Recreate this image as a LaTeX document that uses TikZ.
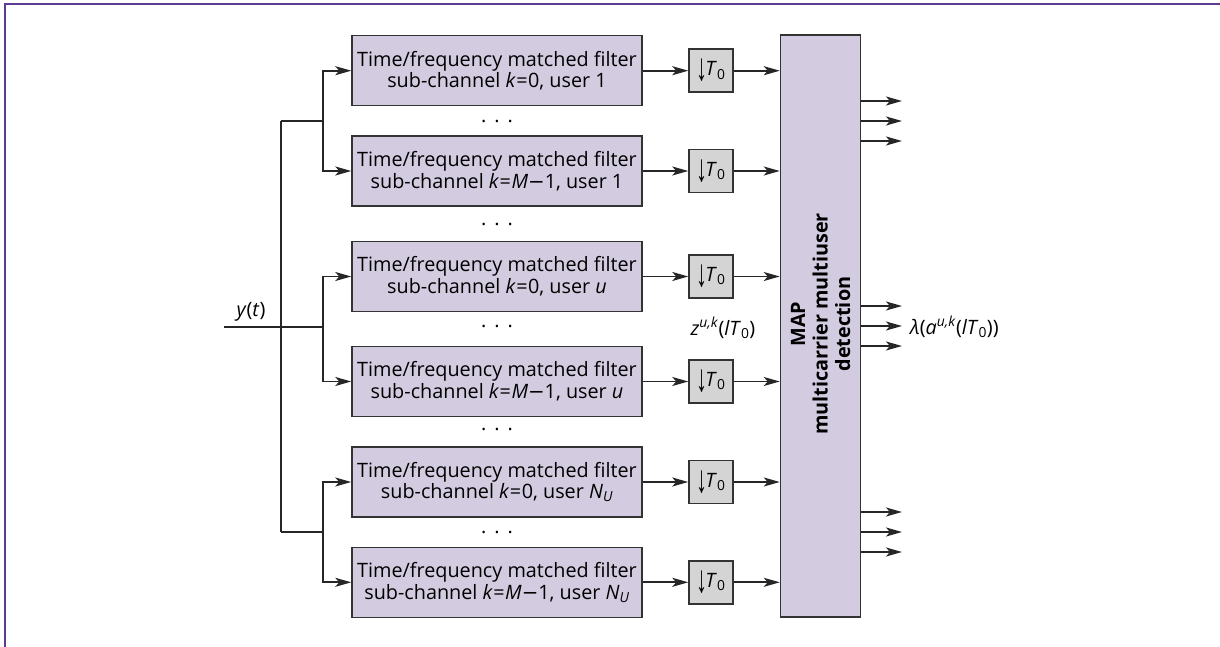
\documentclass[tikz,border=0pt]{standalone}
\usepackage{fontspec}
\setmainfont{Open Sans}
\newfontfamily\symfont{Liberation Sans}
\newfontfamily\minusfont{DejaVu Sans}
\usetikzlibrary{arrows.meta}
\definecolor{boxfill}{HTML}{D3CBE0}
\definecolor{grayfill}{HTML}{D4D4D4}
\definecolor{edgecol}{HTML}{333333}
\definecolor{framecol}{HTML}{5E3C92}
\newcommand{\Tnull}{\textit{T}\textsubscript{0}}
\newcommand{\mminus}{{\minusfont −}}
\newcommand{\eqs}{\kern0.5pt=\kern0.5pt}
\newcommand{\dnarrow}{\raisebox{-5pt}{\scalebox{1}[1.75]{\symfont\fontsize{22}{22}\selectfont ↓}}}
\tikzset{
  txt/.style={font=\fontsize{19.8}{21.7}\selectfont},
  filt/.style={txt, draw=edgecol, line width=1.5pt, fill=boxfill, minimum width=290pt, minimum height=70pt, inner sep=0pt, align=center},
  dsamp/.style={txt, draw=edgecol, line width=1.5pt, fill=grayfill, minimum width=44pt, minimum height=43pt, inner sep=0pt},
  mapbox/.style={draw=edgecol, line width=1.5pt, fill=boxfill, minimum width=80pt, minimum height=582pt, inner sep=0pt},
  conn/.style={line width=1.8pt, draw=black!85},
  arr/.style={conn, -{Stealth[length=16pt,width=9pt,inset=4pt]}},
  lbl/.style={txt, inner sep=0pt},
  dots/.style={txt, inner sep=0pt, anchor=base},
}
\begin{document}
\begin{tikzpicture}[x=1pt,y=-1pt]
\useasboundingbox (0,0) rectangle (1220,647);
\draw[framecol, line width=2.5pt] (5,647) -- (5,4) -- (1220,4);

% filters
\node[filt] (f1) at (497,70.7)  {Time/frequency matched filter\\sub-channel \textit{k}\eqs0, user 1};
\node[filt] (f2) at (497,171)   {Time/frequency matched filter\\sub-channel \textit{k}\eqs\textit{M}\mminus1, user 1};
\node[filt] (f3) at (497,276.5) {Time/frequency matched filter\\sub-channel \textit{k}\eqs0, user \textit{u}};
\node[filt] (f4) at (497,381.5) {Time/frequency matched filter\\sub-channel \textit{k}\eqs\textit{M}\mminus1, user \textit{u}};
\node[filt] (f5) at (497,482)   {Time/frequency matched filter\\sub-channel \textit{k}\eqs0, user \textit{N}\textsubscript{\textit{U}}};
\node[filt] (f6) at (497,582.3) {Time/frequency matched filter\\sub-channel \textit{k}\eqs\textit{M}\mminus1, user \textit{N}\textsubscript{\textit{U}}};

% dots
\node[dots] (p1) at (497,122.4) {.\hspace{8pt}.\hspace{8pt}.};
\node[dots] (p2) at (497,225.3) {.\hspace{8pt}.\hspace{8pt}.};
\node[dots] (p3) at (497,327.9) {.\hspace{8pt}.\hspace{8pt}.};
\node[dots] (p4) at (497,430.7) {.\hspace{8pt}.\hspace{8pt}.};
\node[dots] (p5) at (497,533.2) {.\hspace{8pt}.\hspace{8pt}.};

% downsamplers
\foreach \i/\y in {1/70.7,2/171,3/276.5,4/381.5,5/482,6/582.3}{
  \node[dsamp] (d\i) at (711,\y) {\dnarrow\kern-2pt\Tnull};
}

% MAP
\node[mapbox] (map) at (820.5,326) {};
\node[txt, font=\fontsize{19.8}{22.5}\selectfont\bfseries, rotate=90, align=center, inner sep=0pt] (maptxt) at (820.5,324) {MAP\\multicarrier multiuser\\detection};

\foreach \i in {1,...,6}{
  \draw[arr] (f\i.east) -- (d\i.west);
  \draw[arr] (d\i.east) -- (map.west |- d\i.east);
}

% input bus
\coordinate (in) at (224,326.7);
\coordinate (bt) at (281,121);
\coordinate (bb) at (281,532);
\coordinate (tj) at (323,121);
\coordinate (mj) at (323,326.7);
\coordinate (bj) at (323,532);
\draw[conn] (bt) -- (bb);
\draw[conn] (bt) -- (tj);
\draw[conn] (in) -- (mj);
\draw[conn] (bb) -- (bj);
\draw[arr] (tj) |- (f1.west);
\draw[arr] (tj) |- (f2.west);
\draw[arr] (mj) |- (f3.west);
\draw[arr] (mj) |- (f4.west);
\draw[arr] (bj) |- (f5.west);
\draw[arr] (bj) |- (f6.west);
\node[lbl, anchor=base] (ylab) at (251,316) {\textit{y}(\textit{t})};

% outputs
\foreach \i/\y in {1/101,2/121,3/141,4/306,5/326,6/346,7/512,8/532,9/552}{
  \coordinate (o\i) at (902,\y);
  \draw[arr] (map.east |- o\i) -- (o\i);
}

\node[lbl, anchor=base] (zlab) at (723,335) {\textit{z}\textsuperscript{\textit{u,k}}(\textit{lT}\textsubscript{0})};
\node[lbl, anchor=base west] (lamlab) at (910,334) {\textit{λ}(\textit{a}\textsuperscript{\textit{u,k}}(\textit{lT}\textsubscript{0}))};
\end{tikzpicture}
\end{document}
